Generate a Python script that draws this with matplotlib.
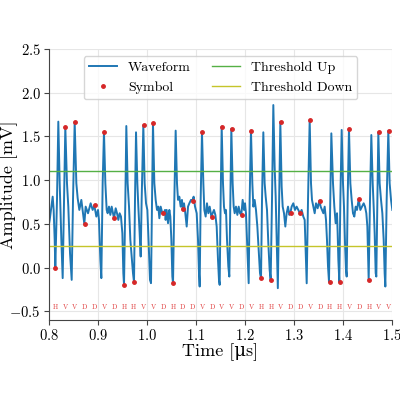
import matplotlib
matplotlib.use("Agg")
import matplotlib.pyplot as plt
import numpy as np

# waveform samples (time in us, amplitude in mV)
wave_t = [
	0.8000, 0.8014, 0.8048, 0.8075, 0.8095, 0.8116, 0.8129, 0.8163, 0.8190, 0.8218,
	0.8252, 0.8279, 0.8306, 0.8333, 0.8367, 0.8394, 0.8429, 0.8463, 0.8490, 0.8524,
	0.8558, 0.8585, 0.8619, 0.8660, 0.8694, 0.8721, 0.8748, 0.8796, 0.8850, 0.8891,
	0.8925, 0.8966, 0.9000, 0.9020, 0.9048, 0.9068, 0.9095, 0.9122, 0.9150, 0.9177,
	0.9197, 0.9224, 0.9252, 0.9279, 0.9306, 0.9327, 0.9361, 0.9388, 0.9415, 0.9442,
	0.9469, 0.9497, 0.9517, 0.9531, 0.9558, 0.9578, 0.9605, 0.9633, 0.9660, 0.9687,
	0.9714, 0.9735, 0.9755, 0.9776, 0.9803, 0.9823, 0.9850, 0.9871, 0.9891, 0.9925,
	0.9952, 0.9980, 1.0007, 1.0034, 1.0061, 1.0082, 1.0102, 1.0122, 1.0150, 1.0177,
	1.0204, 1.0231, 1.0252, 1.0279, 1.0313, 1.0340, 1.0367, 1.0380, 1.0401, 1.0429,
	1.0456, 1.0476, 1.0497, 1.0517, 1.0531, 1.0558, 1.0585, 1.0612, 1.0633, 1.0660,
	1.0687, 1.0714, 1.0728, 1.0755, 1.0782, 1.0810, 1.0837, 1.0864, 1.0898, 1.0925,
	1.0952, 1.0980, 1.1014, 1.1041, 1.1061, 1.1075, 1.1095, 1.1122, 1.1150, 1.1170,
	1.1197, 1.1224, 1.1252, 1.1279, 1.1313, 1.1340, 1.1367, 1.1395, 1.1422, 1.1449,
	1.1469, 1.1483, 1.1503, 1.1524, 1.1551, 1.1571, 1.1592, 1.1612, 1.1633, 1.1660,
	1.1680, 1.1701, 1.1721, 1.1748, 1.1769, 1.1789, 1.1816, 1.1844, 1.1871, 1.1898,
	1.1925, 1.1952, 1.1980, 1.2000, 1.2020, 1.2041, 1.2061, 1.2075, 1.2095, 1.2122,
	1.2150, 1.2170, 1.2197, 1.2224, 1.2252, 1.2279, 1.2306, 1.2327, 1.2347, 1.2374,
	1.2401, 1.2422, 1.2449, 1.2476, 1.2503, 1.2524, 1.2551, 1.2578, 1.2605, 1.2626,
	1.2648, 1.2670, 1.2697, 1.2721, 1.2748, 1.2769, 1.2796, 1.2823, 1.2850, 1.2878,
	1.2905, 1.2925, 1.2952, 1.2986, 1.3020, 1.3054, 1.3088, 1.3122, 1.3156, 1.3190,
	1.3218, 1.3238, 1.3259, 1.3286, 1.3320, 1.3347, 1.3367, 1.3395, 1.3422, 1.3449,
	1.3483, 1.3517, 1.3544, 1.3571, 1.3599, 1.3626, 1.3653, 1.3673, 1.3694, 1.3714,
	1.3741, 1.3762, 1.3796, 1.3823, 1.3850, 1.3878, 1.3891, 1.3905, 1.3925, 1.3946,
	1.3973, 1.4000, 1.4020, 1.4041, 1.4061, 1.4075, 1.4095, 1.4122, 1.4150, 1.4177,
	1.4204, 1.4231, 1.4259, 1.4286, 1.4320, 1.4354, 1.4388, 1.4422, 1.4449, 1.4476,
	1.4497, 1.4517, 1.4524, 1.4551, 1.4578, 1.4606, 1.4626, 1.4646, 1.4667, 1.4680,
	1.4701, 1.4721, 1.4748, 1.4776, 1.4803, 1.4830, 1.4850, 1.4864, 1.4891, 1.4925,
	1.4952, 1.4980, 1.5007,
]
wave_v = [
	0.500, 0.545, 0.697, 0.811, 0.659, 0.317, 0.000, 0.774, 1.669, 0.964,
	0.317, -0.121, 0.774, 1.604, 0.964, 0.697, 0.164, -0.141, 0.774, 1.665,
	0.964, 0.793, 0.659, 0.774, 0.621, 0.499, 0.697, 0.621, 0.735, 0.659,
	0.712, 0.583, 0.659, 0.545, 0.088, -0.121, 0.964, 1.551, 0.964, 0.659,
	0.621, 0.697, 0.602, 0.697, 0.621, 0.564, 0.678, 0.621, 0.545, 0.621,
	0.583, 0.393, -0.064, -0.198, 0.774, 1.619, 0.964, 0.697, 0.317, 0.126,
	-0.064, -0.167, 0.774, 1.547, 0.964, 0.697, 0.393, 0.126, 0.774, 1.627,
	0.964, 0.735, 0.659, 0.278, -0.141, -0.179, 0.774, 1.650, 0.964, 0.774,
	0.659, 0.697, 0.564, 0.697, 0.621, 0.621, 0.659, 0.545, 0.659, 0.507,
	0.659, 0.583, 0.317, -0.103, -0.179, 0.774, 1.566, 0.964, 0.774, 0.811,
	0.697, 0.774, 0.667, 0.735, 0.621, 0.469, 0.697, 0.735, 0.774, 0.766,
	0.811, 0.697, 0.621, 0.317, -0.064, -0.217, 0.774, 1.547, 0.964, 0.659,
	0.583, 0.735, 0.621, 0.697, 0.583, 0.621, 0.659, 0.602, 0.469, 0.088,
	-0.141, -0.198, 0.774, 1.612, 0.964, 0.697, 0.621, 0.659, 0.317, 0.012,
	-0.103, 0.774, 1.589, 0.964, 0.697, 0.621, 0.697, 0.602, 0.697, 0.621,
	0.602, 0.774, 0.659, 0.735, 0.621, 0.317, 0.012, -0.179, 0.774, 1.566,
	0.964, 0.697, 0.774, 0.659, 0.469, 0.202, -0.064, -0.125, 0.774, 1.547,
	0.964, 0.811, 0.659, 0.278, -0.026, -0.141, 0.774, 1.859, 1.155, 0.811,
	0.300, -0.236, 0.774, 1.665, 0.926, 0.697, 0.621, 0.469, 0.621, 0.697,
	0.602, 0.621, 0.697, 0.735, 0.659, 0.697, 0.659, 0.621, 0.659, 0.583,
	0.545, 0.202, -0.180, 0.774, 1.688, 0.964, 0.774, 0.697, 0.621, 0.735,
	0.678, 0.766, 0.697, 0.659, 0.621, 0.697, 0.545, 0.317, 0.012, -0.160,
	0.774, 1.535, 0.964, 0.697, 0.507, 0.621, 0.393, 0.088, -0.160, 0.774,
	1.574, 0.964, 0.697, 0.278, -0.026, -0.103, 0.774, 1.589, 0.964, 0.774,
	0.621, 0.583, 0.697, 0.659, 0.781, 0.659, 0.697, 0.735, 0.697, 0.621,
	0.469, 0.012, -0.141, 0.774, 1.516, 0.964, 0.697, 0.393, -0.064, -0.103,
	0.774, 1.547, 0.964, 0.774, 0.621, 0.317, -0.064, -0.217, 0.774, 1.566,
	0.964, 0.774, 0.659,
]

# decoded symbols, one every symbol_period starting at symbol_start
symbol_start = 0.813
symbol_period = 0.02
symbols = list("HVVDDVDHHVVDHDDVDVVDVHHVDDVDHHVDHVV")
symbol_v = [
	0.000, 1.604, 1.665, 0.499, 0.712, 1.551, 0.564, -0.198, -0.167, 1.627,
	1.650, 0.621, -0.179, 0.667, 0.766, 1.547, 0.583, 1.612, 1.589, 0.602,
	1.566, -0.125, -0.141, 1.665, 0.621, 0.621, 1.688, 0.766, -0.160, -0.160,
	1.589, 0.781, -0.141, 1.547, 1.566,
]

threshold_up = 1.1
threshold_down = 0.25
label_y = -0.45


def main():
	plt.rcParams["font.family"] = ["cmr10", "DejaVu Serif"]
	plt.rcParams["mathtext.fontset"] = "cm"
	plt.rcParams["axes.formatter.use_mathtext"] = True

	fig = plt.figure(figsize=(4, 4), dpi=100)
	ax = fig.add_axes([0.1225, 0.2, 0.8575, 0.6775])

	symbol_t = symbol_start + symbol_period * np.arange(len(symbols))

	ax.plot(wave_t, wave_v, color="#1f77b4", lw=1.4, label="Waveform")
	ax.plot(symbol_t, symbol_v, "o", color="#d62728", ms=2.5, label="Symbol")
	ax.axhline(threshold_up, color="#55b045", lw=1.0, label="Threshold Up")
	ax.axhline(threshold_down, color="#c5c52a", lw=1.0, label="Threshold Down")

	for t, s in zip(symbol_t, symbols):
		ax.text(t, label_y, s, color="#e04040", fontsize=5, ha="center", va="center")

	ax.set_xlim(0.8, 1.5)
	ax.set_ylim(-0.6, 2.5)
	ax.set_xticks(np.arange(0.8, 1.51, 0.1))
	ax.set_yticks(np.arange(-0.5, 2.51, 0.5))
	ax.tick_params(labelsize=10.5, length=3.5, pad=2.5, color="#444444")
	ax.grid(True, color="#e6e6e6", lw=0.8)
	ax.set_axisbelow(True)
	for side in ["top", "right"]:
		ax.spines[side].set_visible(False)
	for side in ["left", "bottom"]:
		ax.spines[side].set_color("#444444")

	ax.set_xlabel("Time [\u03bcs]", fontsize=13)
	ax.xaxis.set_label_coords(0.5, -0.085)
	ax.set_ylabel("Amplitude [mV]", fontsize=13)
	ax.yaxis.set_label_coords(-0.09, 0.5)
	ax.legend(loc="upper center", ncol=2, fontsize=10, framealpha=0.8,
		edgecolor="#cccccc", columnspacing=1.5)

	fig.savefig("out.png", dpi=100)


if __name__ == "__main__":
	main()
